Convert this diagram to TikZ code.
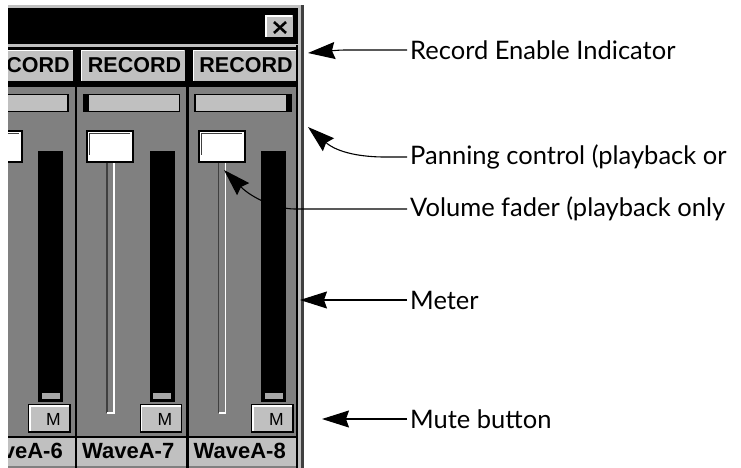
\documentclass[tikz,border=0pt]{standalone}
\usepackage{fontspec}
\setmainfont{Lato}
\newfontfamily\pixfont{Liberation Sans}
\usetikzlibrary{arrows.meta}
\definecolor{stripgray}{HTML}{808080}
\definecolor{btngray}{HTML}{C0C0C0}
\definecolor{shadegray}{HTML}{404040}
\definecolor{ledgray}{HTML}{A8A8A8}
\begin{document}
\begin{tikzpicture}[x=1pt,y=-1pt,
  lbl/.style={anchor=west,inner xsep=3pt,inner ysep=0pt,font=\fontsize{25.5}{30}\selectfont},
  pointer/.style={draw=black,line width=1.1pt,-{Stealth[length=27pt,width=17pt,inset=3pt]}},
  recbtn/.style={draw=black,line width=1.2pt,fill=btngray,minimum width=105pt,minimum height=33pt,inner sep=0pt,
     font=\pixfont\bfseries\fontsize{21.5}{24}\selectfont},
  mutebtn/.style={draw=black,line width=1.2pt,fill=btngray,minimum width=41pt,minimum height=27pt,inner sep=0pt},
  mfont/.style={inner sep=0pt,font=\pixfont\fontsize{17.5}{20}\selectfont},
  panbar/.style={draw=black,line width=1.6pt,fill=btngray,minimum width=96pt,minimum height=17pt,inner sep=0pt},
  knob/.style={draw=black,line width=1.6pt,fill=white,minimum width=46pt,minimum height=31pt,inner sep=0pt},
  namefont/.style={inner sep=0pt,anchor=base west,font=\pixfont\bfseries\fontsize{22}{24}\selectfont},
  bevel/.style={white,line width=1.3pt}
]
\useasboundingbox (0,0) rectangle (741,468);
\fill[white] (0,0) rectangle (741,468);

\begin{scope}
\clip (8,0) rectangle (304,468);
% window frame
\fill[btngray] (8,5) rectangle (301,468);
\fill[shadegray] (301,5) rectangle (303.5,468);
\fill[black] (8,8) rectangle (298,44.5);
% close button
\node[draw=black,line width=1pt,fill=btngray,minimum width=28pt,minimum height=23pt,inner sep=0pt] (closebtn) at (279,26.5) {};
\draw[bevel] ([shift={(1.5,-1.5)}]closebtn.south west) -- ([shift={(1.5,1.5)}]closebtn.north west) -- ([shift={(-1.5,1.5)}]closebtn.north east);
\draw[black,line width=2.6pt] (274,22) -- (286,33) (274,33) -- (286,22);
% record row and strips
\fill[black] (8,47) rectangle (298,87);
\fill[stripgray] (8,87.5) rectangle (296,436);
\fill[black] (8,435.5) rectangle (298,437.5);
\fill[btngray] (8,437.5) rectangle (296,466);
\fill[stripgray] (8,466) rectangle (298,468);
\fill[black] (296,45) rectangle (298,468);
% column dividers
\fill[black] (74.8,47) rectangle (77,468);
\fill[black] (186.3,47) rectangle (188.5,468);

\foreach \k/\ox/\th in {6/-35.5/7,7/76/7,8/187.5/98.5}{
 \begin{scope}[xshift=\ox pt]
  % record enable button
  \node[recbtn] (rec\k) at (57,65.5) {\kern3pt RECORD};
  \draw[bevel] ([shift={(1.8,-1.8)}]rec\k.south west) -- ([shift={(1.8,1.8)}]rec\k.north west) -- ([shift={(-1.8,1.8)}]rec\k.north east);
  % panning bar
  \node[panbar] (pan\k) at (55.5,103) {};
  \fill[black] (\th,94) rectangle ++(5.5,18);
  % fader track
  \draw[shadegray,line width=1.5pt] (31,162) -- (31,413);
  \draw[white,line width=1.5pt] (31,413) -- (38,413) -- (38,162);
  % fader knob
  \node[knob] (knob\k) at (34.2,146.5) {};
  \draw[shadegray,line width=1pt] ([shift={(3.5,-8)}]knob\k.south west) -- ([shift={(3.5,3.5)}]knob\k.north west) -- ([shift={(-4,3.5)}]knob\k.north east);
  % meter
  \fill[black] (73.5,151) rectangle (98.5,402);
  \fill[ledgray] (77,393) rectangle (95,399);
  % mute button
  \node[mutebtn] (mbtn\k) at (85,418.5) {};
  \draw[bevel] ([shift={(1.5,-1.5)}]mbtn\k.south west) -- ([shift={(1.5,1.5)}]mbtn\k.north west) -- ([shift={(-1.5,1.5)}]mbtn\k.north east);
  \node[mfont] (mute\k) at (89,419) {M};
  % channel name
  \node[namefont] (name\k) at (6,458) {WaveA-\k};
 \end{scope}
}
\end{scope}

% callouts
\node[lbl] (lrec) at (407,50) {Record Enable Indicator};
\node[lbl] (lpan) at (407,157) {Panning control (playback or};
\node[lbl] (lvol) at (407,209) {Volume fader (playback only};
\node[lbl] (lmet) at (407,300) {Meter};
\node[lbl] (lmut) at (407,419) {Mute button};

\coordinate (trec) at (308,53);
\coordinate (tpan) at (308,127);
\coordinate (tvol) at (224,170);
\coordinate (tmet) at (300,300);
\coordinate (tmut) at (322,419);

\draw[pointer] (lrec.west) -- (345,50) .. controls (338,50) and (330,51) .. (trec);
\draw[pointer] (lpan.west) -- (385,157) .. controls (362,157) and (338,153) .. (tpan);
\draw[pointer] (lvol.west) -- (295,209) .. controls (276,209) and (252,198) .. (tvol);
\draw[pointer] (lmet.west) -- (tmet);
\draw[pointer] (lmut.west) -- (tmut);
\end{tikzpicture}
\end{document}
